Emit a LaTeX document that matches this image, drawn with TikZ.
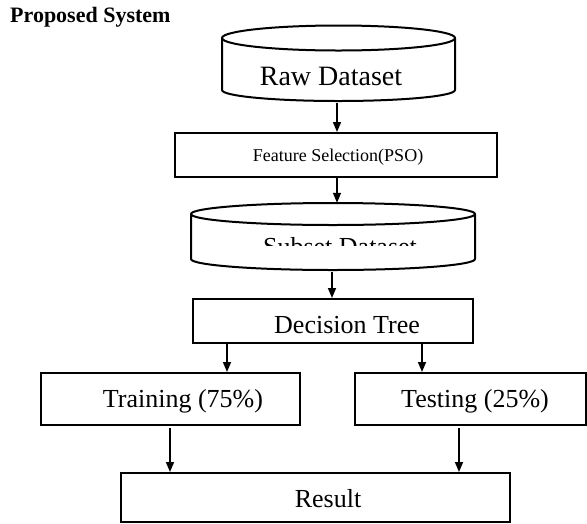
\documentclass[tikz,border=0pt]{standalone}
\usepackage{fontspec}
\setmainfont{Liberation Serif}
\usetikzlibrary{arrows.meta}
\begin{document}
\begin{tikzpicture}[x=1pt,y=-1pt,
  stagebox/.style={draw=black, line width=2pt, inner sep=0pt, minimum width=#1},
  ghost/.style={inner sep=0pt},
  cyl/.style={draw=black, line width=2pt, line join=round},
  big/.style={font=\fontsize{26pt}{30pt}\selectfont, inner sep=0pt, anchor=base},
  small/.style={font=\fontsize{18pt}{21pt}\selectfont, inner sep=0pt, anchor=base},
  arr/.style={line width=1.5pt, -{Triangle[length=10pt,width=8pt]}}]
\useasboundingbox (0,0) rectangle (587,523);

% heading
\node[font=\fontsize{22pt}{26pt}\selectfont\bfseries, inner sep=0pt, anchor=base west] (title) at (10,22) {Proposed System};

% raw data store
\draw[cyl] (338.5,38) ellipse [x radius=116.5, y radius=12.5];
\draw[cyl] (222,38) -- (222,90) .. controls (222,96.1) and (274.2,101) .. (338.5,101)
  .. controls (402.8,101) and (455,96.1) .. (455,90) -- (455,38);
\node[ghost, minimum width=233pt, minimum height=75.5pt] (raw) at (338.5,63.25) {};
\node[big, font=\fontsize{28pt}{32pt}\selectfont] (rawlbl) at (331,85) {Raw Dataset};

% feature selection
\node[stagebox=322pt, minimum height=44pt] (feat) at (336,155) {};
\node[small] (featlbl) at (338,161) {Feature Selection(PSO)};

% subset data store
\draw[cyl] (333,214) ellipse [x radius=142, y radius=11];
\draw[cyl] (191,214) -- (191,259) .. controls (191,265.1) and (254.6,270) .. (333,270)
  .. controls (411.4,270) and (475,265.1) .. (475,259) -- (475,214);
\node[ghost, minimum width=284pt, minimum height=67pt] (subset) at (333,236.5) {};
\begin{scope}
  \clip (0,0) rectangle (587,245);
  \node[big] (subsetlbl) at (340,255) {Subset Dataset};
\end{scope}

% classifier
\node[stagebox=280pt, minimum height=44pt] (dt) at (333,321) {};
\node[big] (dtlbl) at (347,333) {Decision Tree};

% split
\node[stagebox=259pt, minimum height=52pt] (train) at (170.5,399) {};
\node[big] (trainlbl) at (183,407) {Training (75\%)};
\node[stagebox=231pt, minimum height=52pt] (test) at (470.5,399) {};
\node[big] (testlbl) at (475,407) {Testing (25\%)};

% outcome
\node[stagebox=389pt, minimum height=49pt] (result) at (315.5,497.5) {};
\node[big] (resultlbl) at (328,507) {Result};

% flow
\draw[arr] ([xshift=-1.5pt,yshift=-2pt]raw.south) -- ([xshift=1pt]feat.north);
\draw[arr] ([xshift=1pt]feat.south) -- ([xshift=4pt]subset.north);
\draw[arr] ([xshift=-1pt,yshift=-2pt]subset.south) -- ([xshift=-1pt]dt.north);
\draw[arr] ([xshift=-106pt]dt.south) -- ([xshift=56.5pt]train.north);
\draw[arr] ([xshift=89pt]dt.south) -- ([xshift=-48.5pt]test.north);
\draw[arr] ([xshift=-0.5pt,yshift=-2pt]train.south) -- ([xshift=-145.5pt]result.north);
\draw[arr] ([xshift=-11.5pt,yshift=-2pt]test.south) -- ([xshift=143.5pt]result.north);
\end{tikzpicture}
\end{document}
